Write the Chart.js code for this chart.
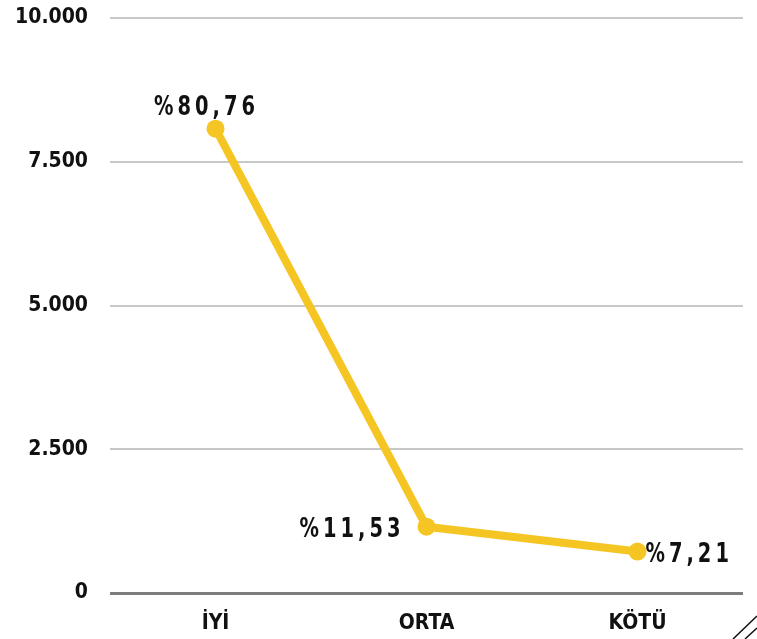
<!DOCTYPE html>
<html>
<head>
<meta charset="utf-8">
<script src="https://cdn.jsdelivr.net/npm/chart.js@4.4.1/dist/chart.umd.min.js"></script>
<style>
  html, body { margin: 0; padding: 0; background: #fff; }
  #wrap { position: relative; width: 757px; height: 639px; overflow: hidden; }
  #deco { position: absolute; left: 0; top: 0; pointer-events: none; }
</style>
</head>
<body>
<div id="wrap">
  <canvas id="chart" width="757" height="639"></canvas>
  <svg id="deco" width="757" height="639">
    <line x1="733" y1="639" x2="757" y2="616" stroke="#111" stroke-width="1.5"/>
    <line x1="745" y1="639" x2="757" y2="628" stroke="#111" stroke-width="1.5"/>
  </svg>
</div>
<script>
const categories = ['İYİ', 'ORTA', 'KÖTÜ'];
const values = [8076, 1153, 721];
const percentLabels = ['%80,76', '%11,53', '%7,21'];
const yTicks = [0, 2500, 5000, 7500, 10000];

const yellow = '#f5c623';
const tickFont = { family: '"DejaVu Sans Condensed", "DejaVu Sans", sans-serif', weight: 'bold', size: 21 };

// where each percentage sits relative to its point (alphabetic baseline)
const labelPlace = [
    { dx: -9, dy: -14, align: 'center' },
    { dx: -22, dy: 10, align: 'right' },
    { dx: 8, dy: 10, align: 'left' }
];

const squeeze = 0.8;

const pointLabels = {
    id: 'pointLabels',
    afterDatasetsDraw(chart) {
        const ctx = chart.ctx;
        const meta = chart.getDatasetMeta(0);
        meta.data.forEach((pt, i) => {
            const p = labelPlace[i];
            ctx.save();
            ctx.font = 'bold 27px "DejaVu Sans Condensed", "DejaVu Sans", sans-serif';
            ctx.fillStyle = '#111';
            if ('letterSpacing' in ctx) ctx.letterSpacing = '5px';
            ctx.textAlign = p.align;
            ctx.textBaseline = 'alphabetic';
            ctx.translate(pt.x + p.dx, pt.y + p.dy);
            ctx.scale(squeeze, 1);
            ctx.fillText(percentLabels[i], 0, 0);
            ctx.restore();
        });
    }
};

new Chart(document.getElementById('chart'), {
    type: 'line',
    data: {
        labels: categories,
        datasets: [{
            data: values,
            borderColor: yellow,
            backgroundColor: yellow,
            borderWidth: 8,
            pointRadius: 9,
            pointHoverRadius: 9,
            pointBackgroundColor: yellow,
            pointBorderWidth: 0,
            tension: 0,
            clip: false
        }]
    },
    options: {
        responsive: false,
        animation: false,
        events: [],
        layout: { autoPadding: false, padding: { top: 18, right: 14, left: 0, bottom: 0 } },
        plugins: { legend: { display: false }, tooltip: { enabled: false } },
        scales: {
            x: {
                offset: true,
                grid: { display: false, drawTicks: false },
                border: { display: false },
                ticks: { color: '#111', font: tickFont, padding: 18 },
                afterFit(scale) { scale.height = 46; }
            },
            y: {
                min: 0,
                max: 10000,
                afterBuildTicks(scale) { scale.ticks = yTicks.map(v => ({ value: v })); },
                grid: {
                    drawTicks: false,
                    color: c => c.tick && c.tick.value === 0 ? '#7d7d7d' : '#c8c8c8',
                    lineWidth: c => c.tick && c.tick.value === 0 ? 3 : 2
                },
                border: { display: false },
                ticks: {
                    color: '#111',
                    font: tickFont,
                    padding: 22,
                    callback: v => v.toLocaleString('tr-TR')
                },
                afterFit(scale) {
                    scale.width = 110;
                    scale.paddingTop = 0;
                    scale.paddingBottom = 0;
                }
            }
        }
    },
    plugins: [pointLabels]
});
</script>
</body>
</html>
